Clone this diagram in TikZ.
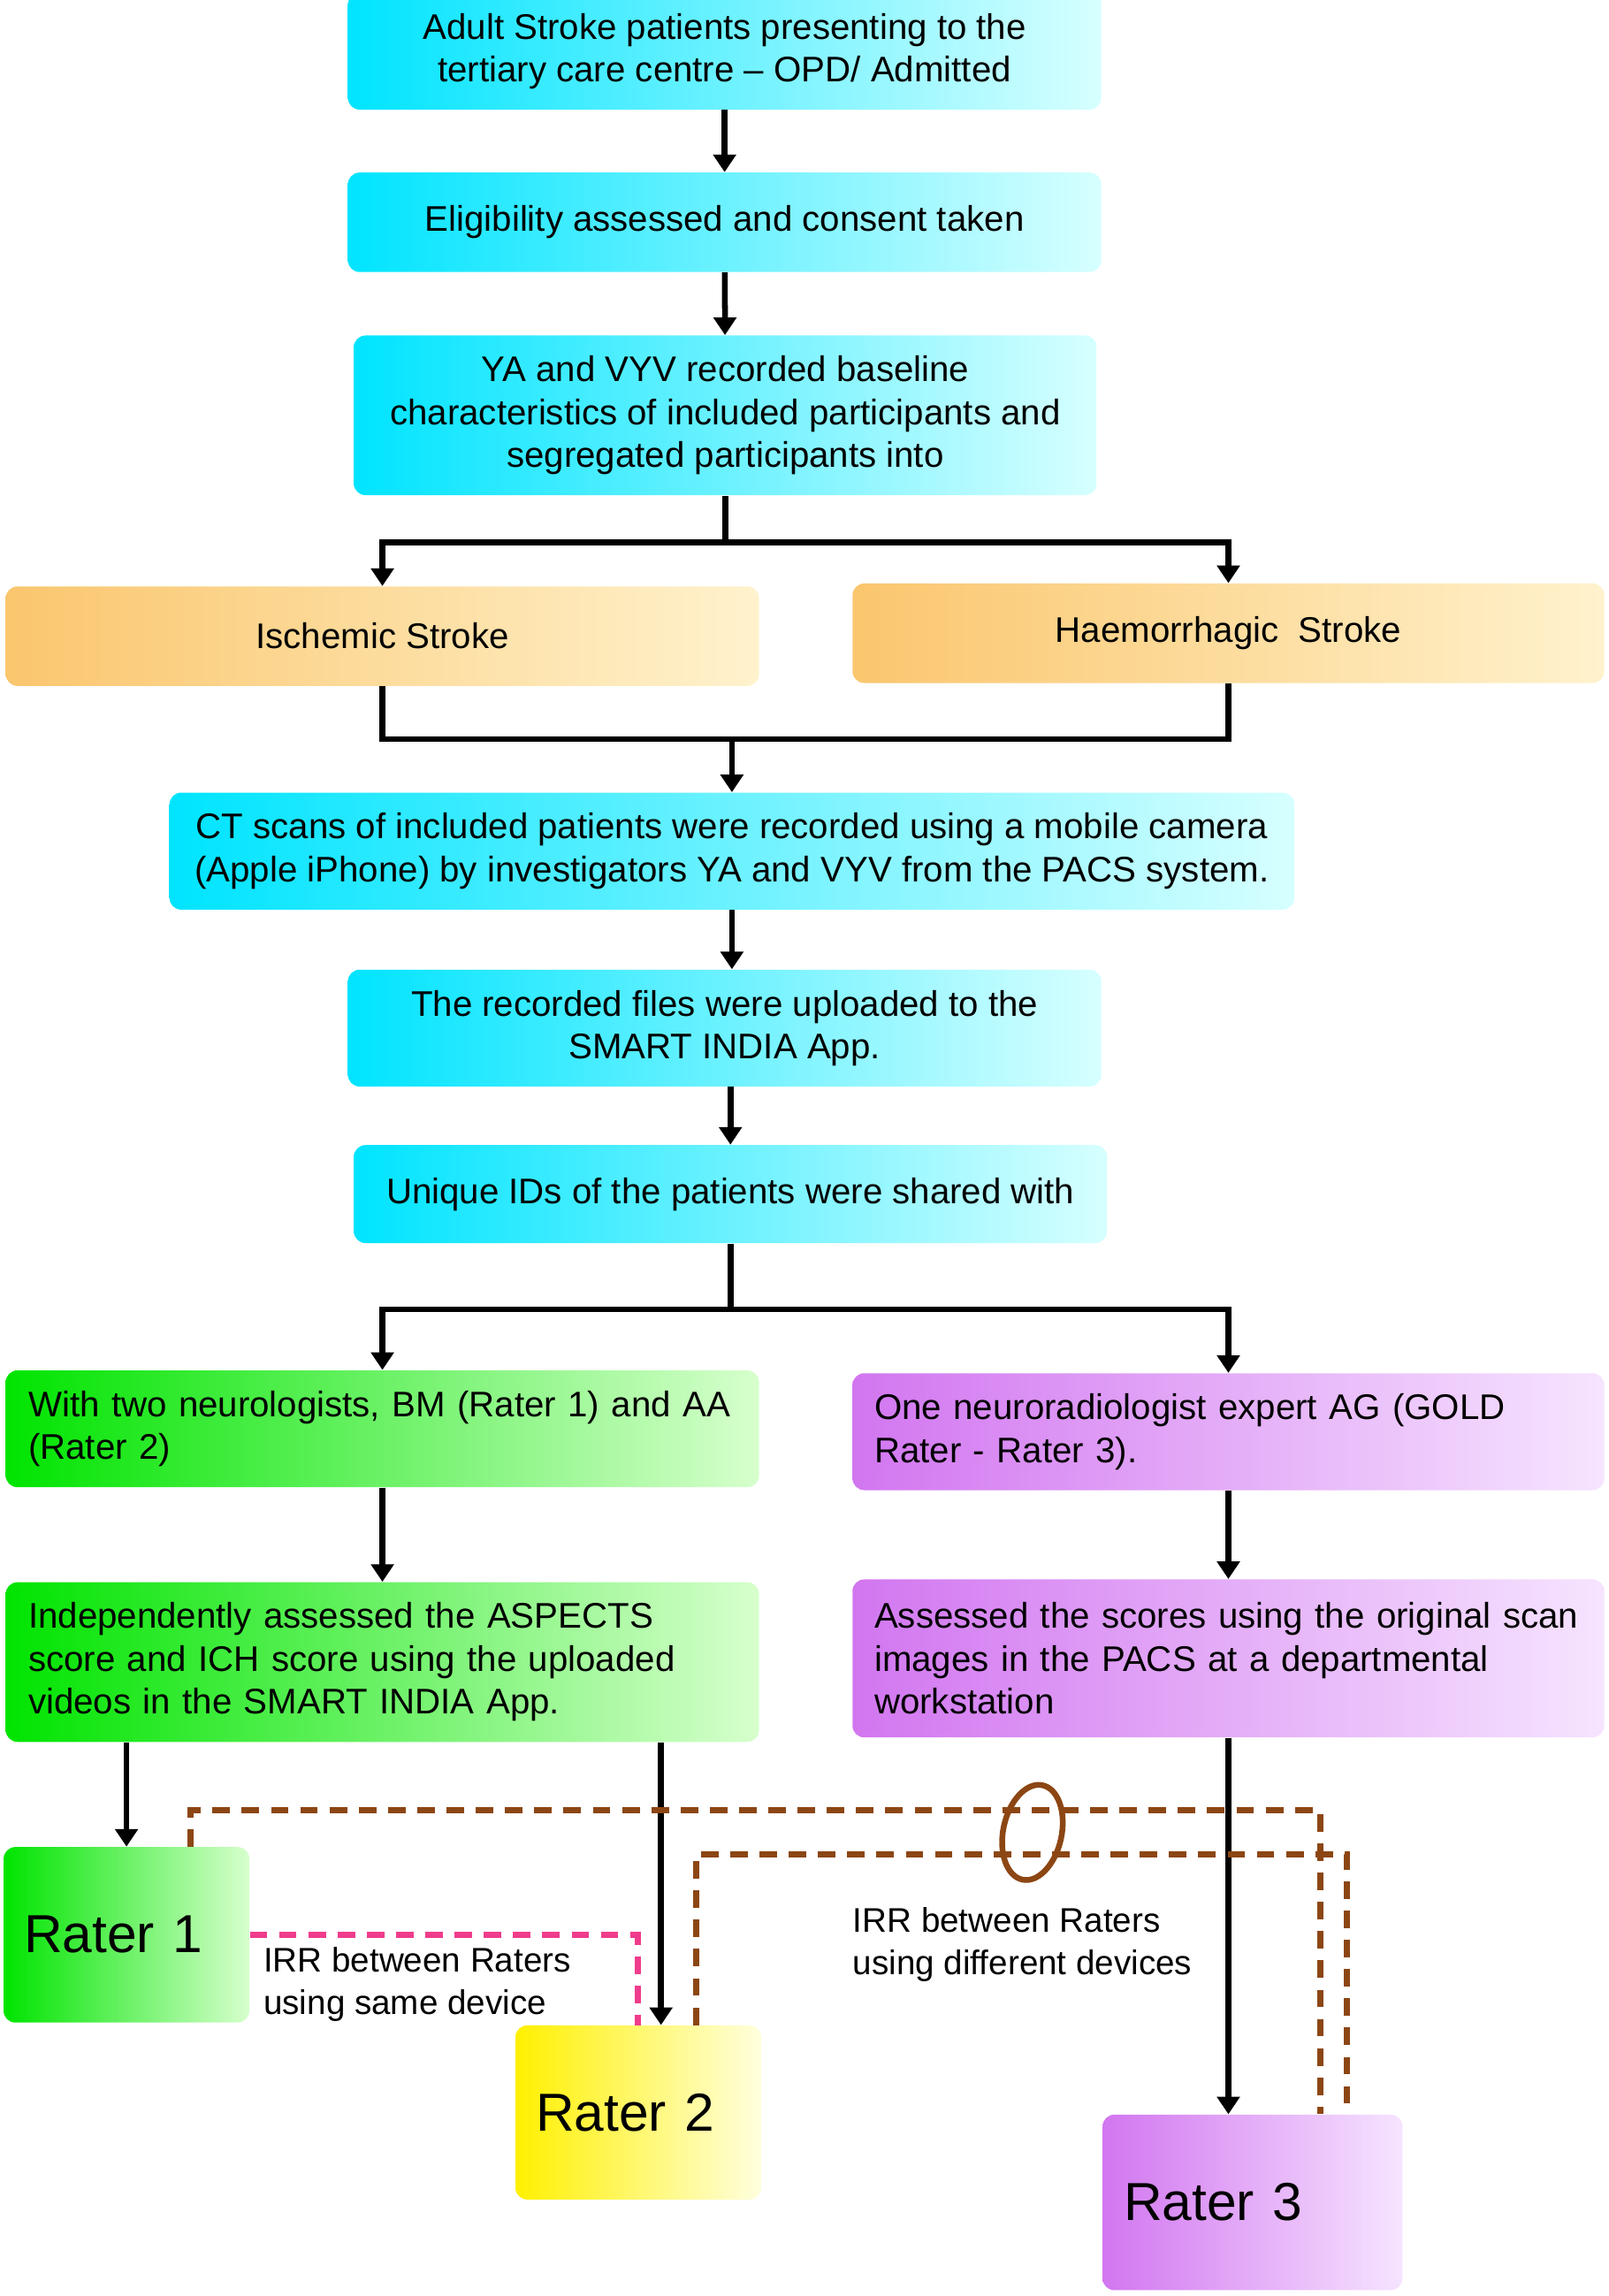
\documentclass[tikz,border=0pt]{standalone}
\usepackage{fontspec}
\setmainfont{Liberation Sans}
\usetikzlibrary{arrows.meta}
\definecolor{cyA}{RGB}{0,228,255}\definecolor{cyB}{RGB}{215,255,255}
\definecolor{orA}{RGB}{250,198,110}\definecolor{orB}{RGB}{255,242,205}
\definecolor{grA}{RGB}{0,228,0}\definecolor{grB}{RGB}{215,255,205}
\definecolor{puA}{RGB}{210,118,240}\definecolor{puB}{RGB}{246,228,255}
\definecolor{yeA}{RGB}{255,240,0}\definecolor{yeB}{RGB}{255,255,222}
\definecolor{brn}{RGB}{140,70,20}\definecolor{pnk}{RGB}{240,60,140}
\tikzset{
 box/.style={draw=none,rounded corners=0.2cm,inner sep=0.35cm,align=center,font=\fontsize{17.3}{20.8}\selectfont},
 cy/.style={box,left color=cyA,right color=cyB},
 orb/.style={box,left color=orA,right color=orB},
 grb/.style={box,left color=grA,right color=grB,align=left},
 pub/.style={box,left color=puA,right color=puB,align=left},
 rat/.style={box,align=left,font=\fontsize{26}{30}\selectfont},
 arr/.style={line width=2.8pt,-{Triangle[width=0.38cm,length=0.3cm]}},
 ln/.style={line width=2.8pt},
 dsh/.style={line width=3pt,dash pattern=on 0.3cm off 0.2cm}
}
\begin{document}
\begin{tikzpicture}[x=0.025cm,y=-0.025cm]
\useasboundingbox (0,0) rectangle (1100,1570);
\node[cy,minimum width=12.875cm,minimum height=1.65cm] (b1) at (495.5,35) {Adult Stroke patients presenting to the\\tertiary care centre -- OPD/ Admitted};
\node[cy,minimum width=12.875cm,minimum height=1.7cm] (b2) at (495.5,152) {Eligibility assessed and consent taken};
\node[cy,minimum width=12.7cm,minimum height=2.7cm] (b3) at (496,284) {YA and VYV recorded baseline\\characteristics of included participants and\\segregated participants into};
\node[orb,minimum width=12.875cm,minimum height=1.7cm] (isch) at (261.5,435) {Ischemic Stroke};
\node[orb,minimum width=12.85cm,minimum height=1.7cm] (haem) at (840,433) {Haemorrhagic\ \ Stroke};
\node[cy,minimum width=19.225cm,minimum height=2.0cm] (ct) at (500.5,582) {CT scans of included patients were recorded using a mobile camera\\(Apple iPhone) by investigators YA and VYV from the PACS system.};
\node[cy,minimum width=12.875cm,minimum height=1.7cm] (rec) at (495.5,703) {The recorded files were uploaded to the\\SMART INDIA App.};
\node[cy,minimum width=12.875cm,minimum height=1.675cm] (uq) at (499.5,816.5) {Unique IDs of the patients were shared with};
\node[grb,minimum width=12.875cm,minimum height=1.7cm,text width=12.1cm] (g1) at (261.5,977) {With two neurologists, BM (Rater 1) and AA\\(Rater 2)};
\node[pub,minimum width=12.85cm,minimum height=1.7cm,text width=12.1cm] (p1) at (840,979) {One neuroradiologist expert AG (GOLD\\Rater - Rater 3).};
\node[grb,minimum width=12.875cm,minimum height=2.725cm,text width=12.1cm] (g2) at (261.5,1136.5) {Independently assessed the ASPECTS\\score and ICH score using the uploaded\\videos in the SMART INDIA App.};
\node[pub,minimum width=12.85cm,minimum height=2.7cm,text width=12.1cm] (p2) at (840,1134) {Assessed the scores using the original scan\\images in the PACS at a departmental\\workstation};
\node[rat,left color=grA,right color=grB,minimum width=4.125cm,minimum height=3.0cm,text width=3.5cm] (r1) at (86.5,1323) {Rater 1};
\node[rat,left color=yeA,right color=yeB,minimum width=4.125cm,minimum height=2.975cm,text width=3.5cm] (r2) at (436.5,1444.5) {Rater 2};
\node[rat,left color=puA,right color=puB,minimum width=5.125cm,minimum height=3.0cm,text width=4.4cm] (r3) at (856.5,1506) {Rater 3};
\node[anchor=north west,align=left,inner sep=0pt,font=\fontsize{16.6}{20.6}\selectfont] (t1) at (180,1331) {IRR between Raters\\using same device};
\node[anchor=north west,align=left,inner sep=0pt,font=\fontsize{16.6}{20.6}\selectfont] (t2) at (583,1304) {IRR between Raters\\using different devices};
% connectors
\draw[arr] (b1) -- (b2);
\draw[arr] (b2) -- (b3);
\draw[ln] (b3.south) -- ++(0,32) coordinate (j1);
\draw[arr] (j1) -| (isch.north);
\draw[arr] (j1) -| (haem.north);
\draw[ln] (isch.south) -- ++(0,36) coordinate (j2) -| (haem.south);
\draw[arr] (ct.north |- j2) -- (ct.north);
\draw[arr] (ct.south) -- (ct.south |- rec.north);
\draw[arr] (uq.north |- rec.south) -- (uq.north);
\draw[ln] (uq.south) -- ++(0,45) coordinate (j3);
\draw[arr] (j3) -| (g1.north);
\draw[arr] (j3) -| (p1.north);
\draw[arr] (g1) -- (g2);
\draw[arr] (p1) -- (p2);
\draw[arr] (g2.south -| r1.north) -- (r1.north);
\coordinate (x452) at (452,0);
\draw[arr] (g2.south -| x452) -- (r2.north -| x452);
\draw[arr] (p2.south) -- (p2.south |- r3.north);
% IRR lines
\coordinate (x130) at (130,1238);\coordinate (x903) at (903,1238);
\coordinate (x476) at (476,1268);\coordinate (x921) at (921,1268);
\draw[dsh,brn] (r1.north -| x130) -- (x130) -- (x903) -- (r3.north -| x903);
\draw[dsh,brn] (r2.north -| x476) -- (x476) -- (x921) -- (r3.north -| x921);
\coordinate (x436) at (436,1323);
\draw[dsh,pnk] (r1.east |- x436) -- (x436) -- (r2.north -| x436);
\draw[brn,line width=2.8pt,rotate around={-12:(706,1253)}] (706,1253) ellipse [x radius=20,y radius=33];
\end{tikzpicture}
\end{document}
